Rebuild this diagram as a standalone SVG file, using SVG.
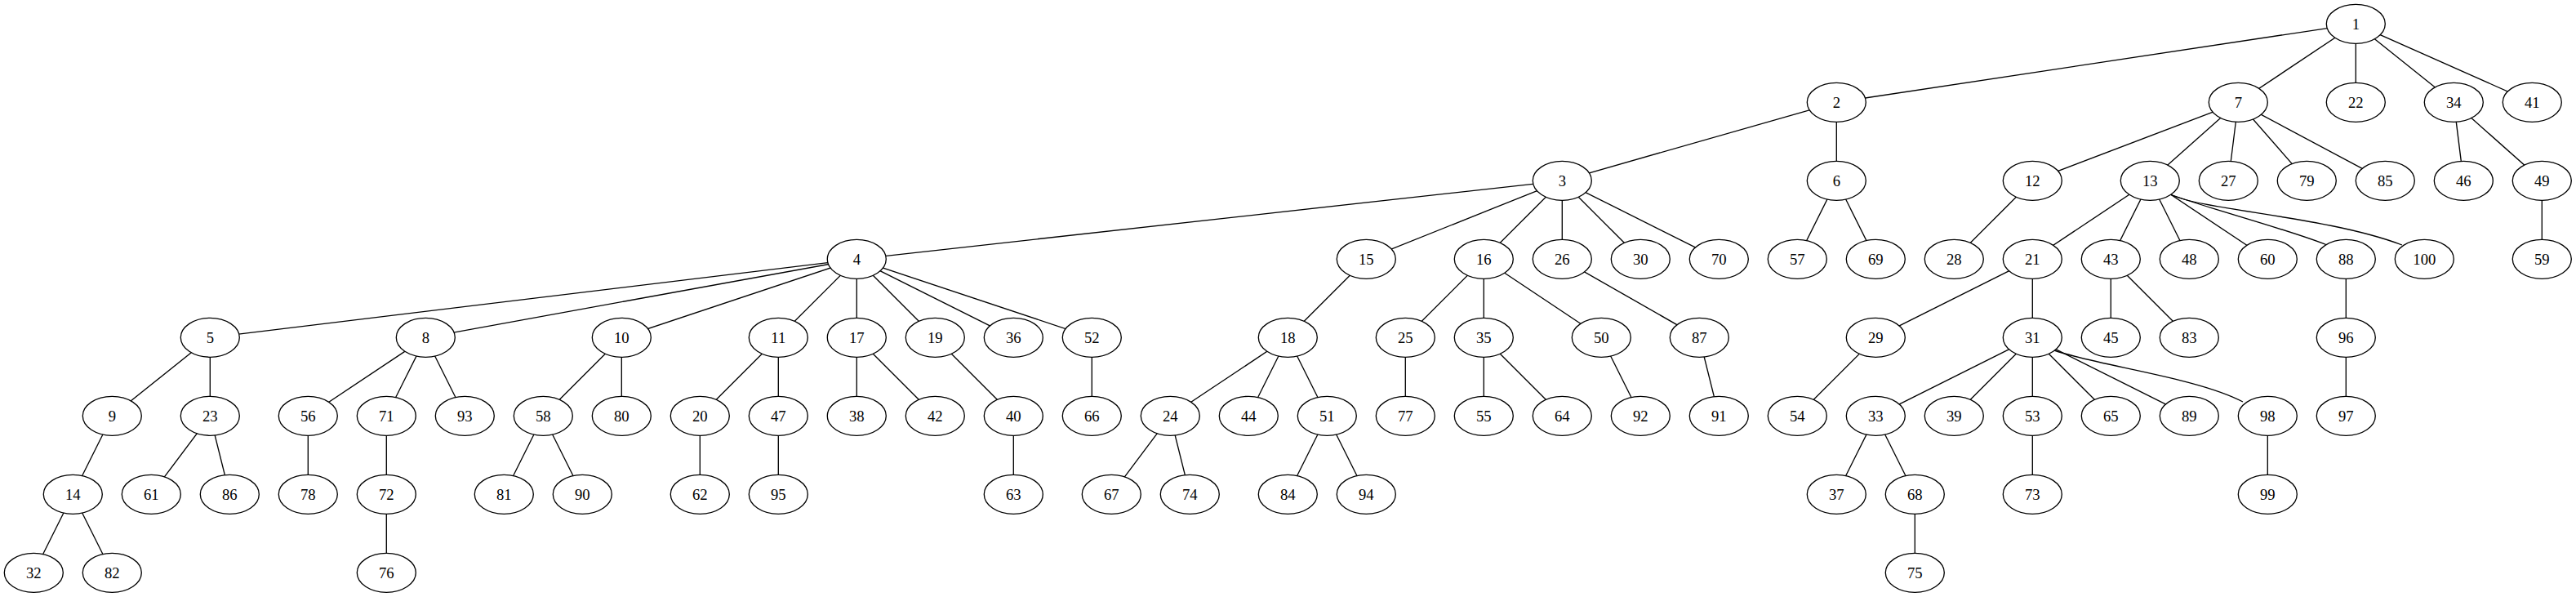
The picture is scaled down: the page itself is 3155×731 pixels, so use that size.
<svg xmlns="http://www.w3.org/2000/svg" width="3155" height="731" viewBox="0 0 3155 731">
<style>
.e line,.e path{stroke:#000;stroke-width:1.33;fill:none}
.n ellipse{fill:#fff;stroke:#000;stroke-width:1.33}
.n text{font-family:"Liberation Serif","Times New Roman",serif;font-size:18.67px;text-anchor:middle;fill:#000}
</style>
<rect width="3155" height="731" fill="#fff"/>
<g id="connectors" class="e">
<line x1="2885.3" y1="29.3" x2="2249.3" y2="125.3"/>
<line x1="2885.3" y1="29.3" x2="2741.3" y2="125.3"/>
<line x1="2885.3" y1="29.3" x2="2885.3" y2="125.3"/>
<line x1="2885.3" y1="29.3" x2="3005.3" y2="125.3"/>
<line x1="2885.3" y1="29.3" x2="3101.3" y2="125.3"/>
<line x1="2249.3" y1="125.3" x2="1913.3" y2="221.3"/>
<line x1="2249.3" y1="125.3" x2="2249.3" y2="221.3"/>
<line x1="2741.3" y1="125.3" x2="2489.3" y2="221.3"/>
<line x1="2741.3" y1="125.3" x2="2633.3" y2="221.3"/>
<line x1="2741.3" y1="125.3" x2="2729.3" y2="221.3"/>
<line x1="2741.3" y1="125.3" x2="2825.3" y2="221.3"/>
<line x1="2741.3" y1="125.3" x2="2921.3" y2="221.3"/>
<line x1="3005.3" y1="125.3" x2="3017.3" y2="221.3"/>
<line x1="3005.3" y1="125.3" x2="3113.3" y2="221.3"/>
<line x1="1913.3" y1="221.3" x2="1049.3" y2="317.3"/>
<line x1="1913.3" y1="221.3" x2="1673.3" y2="317.3"/>
<line x1="1913.3" y1="221.3" x2="1817.3" y2="317.3"/>
<line x1="1913.3" y1="221.3" x2="1913.3" y2="317.3"/>
<line x1="1913.3" y1="221.3" x2="2009.3" y2="317.3"/>
<line x1="1913.3" y1="221.3" x2="2105.3" y2="317.3"/>
<line x1="2249.3" y1="221.3" x2="2201.3" y2="317.3"/>
<line x1="2249.3" y1="221.3" x2="2297.3" y2="317.3"/>
<line x1="2489.3" y1="221.3" x2="2393.3" y2="317.3"/>
<line x1="2633.3" y1="221.3" x2="2489.3" y2="317.3"/>
<line x1="2633.3" y1="221.3" x2="2585.3" y2="317.3"/>
<line x1="2633.3" y1="221.3" x2="2681.3" y2="317.3"/>
<line x1="2633.3" y1="221.3" x2="2777.3" y2="317.3"/>
<path d="M2658,238 C2700,254 2800,280 2850,300"/>
<path d="M2658,238 C2700,258 2850,265 2942,300"/>
<line x1="3113.3" y1="221.3" x2="3113.3" y2="317.3"/>
<line x1="1049.3" y1="317.3" x2="257.3" y2="413.3"/>
<line x1="1049.3" y1="317.3" x2="521.3" y2="413.3"/>
<line x1="1049.3" y1="317.3" x2="761.3" y2="413.3"/>
<line x1="1049.3" y1="317.3" x2="953.3" y2="413.3"/>
<line x1="1049.3" y1="317.3" x2="1049.3" y2="413.3"/>
<line x1="1049.3" y1="317.3" x2="1145.3" y2="413.3"/>
<line x1="1049.3" y1="317.3" x2="1241.3" y2="413.3"/>
<line x1="1049.3" y1="317.3" x2="1337.3" y2="413.3"/>
<line x1="1673.3" y1="317.3" x2="1577.3" y2="413.3"/>
<line x1="1817.3" y1="317.3" x2="1721.3" y2="413.3"/>
<line x1="1817.3" y1="317.3" x2="1817.3" y2="413.3"/>
<line x1="1817.3" y1="317.3" x2="1961.3" y2="413.3"/>
<line x1="1913.3" y1="317.3" x2="2081.3" y2="413.3"/>
<line x1="2489.3" y1="317.3" x2="2297.3" y2="413.3"/>
<line x1="2489.3" y1="317.3" x2="2489.3" y2="413.3"/>
<line x1="2585.3" y1="317.3" x2="2585.3" y2="413.3"/>
<line x1="2585.3" y1="317.3" x2="2681.3" y2="413.3"/>
<line x1="2873.3" y1="317.3" x2="2873.3" y2="413.3"/>
<line x1="257.3" y1="413.3" x2="137.3" y2="509.3"/>
<line x1="257.3" y1="413.3" x2="257.3" y2="509.3"/>
<line x1="521.3" y1="413.3" x2="377.3" y2="509.3"/>
<line x1="521.3" y1="413.3" x2="473.3" y2="509.3"/>
<line x1="521.3" y1="413.3" x2="569.3" y2="509.3"/>
<line x1="761.3" y1="413.3" x2="665.3" y2="509.3"/>
<line x1="761.3" y1="413.3" x2="761.3" y2="509.3"/>
<line x1="953.3" y1="413.3" x2="857.3" y2="509.3"/>
<line x1="953.3" y1="413.3" x2="953.3" y2="509.3"/>
<line x1="1049.3" y1="413.3" x2="1049.3" y2="509.3"/>
<line x1="1049.3" y1="413.3" x2="1145.3" y2="509.3"/>
<line x1="1145.3" y1="413.3" x2="1241.3" y2="509.3"/>
<line x1="1337.3" y1="413.3" x2="1337.3" y2="509.3"/>
<line x1="1577.3" y1="413.3" x2="1433.3" y2="509.3"/>
<line x1="1577.3" y1="413.3" x2="1529.3" y2="509.3"/>
<line x1="1577.3" y1="413.3" x2="1625.3" y2="509.3"/>
<line x1="1721.3" y1="413.3" x2="1721.3" y2="509.3"/>
<line x1="1817.3" y1="413.3" x2="1817.3" y2="509.3"/>
<line x1="1817.3" y1="413.3" x2="1913.3" y2="509.3"/>
<line x1="1961.3" y1="413.3" x2="2009.3" y2="509.3"/>
<line x1="2081.3" y1="413.3" x2="2105.3" y2="509.3"/>
<line x1="2297.3" y1="413.3" x2="2201.3" y2="509.3"/>
<line x1="2489.3" y1="413.3" x2="2297.3" y2="509.3"/>
<line x1="2489.3" y1="413.3" x2="2393.3" y2="509.3"/>
<line x1="2489.3" y1="413.3" x2="2489.3" y2="509.3"/>
<line x1="2489.3" y1="413.3" x2="2585.3" y2="509.3"/>
<line x1="2489.3" y1="413.3" x2="2681.3" y2="509.3"/>
<path d="M2516,429 C2570,448 2690,462 2747,492"/>
<line x1="2873.3" y1="413.3" x2="2873.3" y2="509.3"/>
<line x1="137.3" y1="509.3" x2="89.3" y2="605.3"/>
<line x1="257.3" y1="509.3" x2="185.3" y2="605.3"/>
<line x1="257.3" y1="509.3" x2="281.3" y2="605.3"/>
<line x1="377.3" y1="509.3" x2="377.3" y2="605.3"/>
<line x1="473.3" y1="509.3" x2="473.3" y2="605.3"/>
<line x1="665.3" y1="509.3" x2="617.3" y2="605.3"/>
<line x1="665.3" y1="509.3" x2="713.3" y2="605.3"/>
<line x1="857.3" y1="509.3" x2="857.3" y2="605.3"/>
<line x1="953.3" y1="509.3" x2="953.3" y2="605.3"/>
<line x1="1241.3" y1="509.3" x2="1241.3" y2="605.3"/>
<line x1="1433.3" y1="509.3" x2="1361.3" y2="605.3"/>
<line x1="1433.3" y1="509.3" x2="1457.3" y2="605.3"/>
<line x1="1625.3" y1="509.3" x2="1577.3" y2="605.3"/>
<line x1="1625.3" y1="509.3" x2="1673.3" y2="605.3"/>
<line x1="2297.3" y1="509.3" x2="2249.3" y2="605.3"/>
<line x1="2297.3" y1="509.3" x2="2345.3" y2="605.3"/>
<line x1="2489.3" y1="509.3" x2="2489.3" y2="605.3"/>
<line x1="2777.3" y1="509.3" x2="2777.3" y2="605.3"/>
<line x1="89.3" y1="605.3" x2="41.3" y2="701.3"/>
<line x1="89.3" y1="605.3" x2="137.3" y2="701.3"/>
<line x1="473.3" y1="605.3" x2="473.3" y2="701.3"/>
<line x1="2345.3" y1="605.3" x2="2345.3" y2="701.3"/>
</g>
<g id="node1" class="n"><ellipse cx="2885.3" cy="29.3" rx="36" ry="24"/><text x="2885.3" y="35.5">1</text></g>
<g id="node2" class="n"><ellipse cx="2249.3" cy="125.3" rx="36" ry="24"/><text x="2249.3" y="131.5">2</text></g>
<g id="node7" class="n"><ellipse cx="2741.3" cy="125.3" rx="36" ry="24"/><text x="2741.3" y="131.5">7</text></g>
<g id="node22" class="n"><ellipse cx="2885.3" cy="125.3" rx="36" ry="24"/><text x="2885.3" y="131.5">22</text></g>
<g id="node34" class="n"><ellipse cx="3005.3" cy="125.3" rx="36" ry="24"/><text x="3005.3" y="131.5">34</text></g>
<g id="node41" class="n"><ellipse cx="3101.3" cy="125.3" rx="36" ry="24"/><text x="3101.3" y="131.5">41</text></g>
<g id="node3" class="n"><ellipse cx="1913.3" cy="221.3" rx="36" ry="24"/><text x="1913.3" y="227.5">3</text></g>
<g id="node6" class="n"><ellipse cx="2249.3" cy="221.3" rx="36" ry="24"/><text x="2249.3" y="227.5">6</text></g>
<g id="node12" class="n"><ellipse cx="2489.3" cy="221.3" rx="36" ry="24"/><text x="2489.3" y="227.5">12</text></g>
<g id="node13" class="n"><ellipse cx="2633.3" cy="221.3" rx="36" ry="24"/><text x="2633.3" y="227.5">13</text></g>
<g id="node27" class="n"><ellipse cx="2729.3" cy="221.3" rx="36" ry="24"/><text x="2729.3" y="227.5">27</text></g>
<g id="node79" class="n"><ellipse cx="2825.3" cy="221.3" rx="36" ry="24"/><text x="2825.3" y="227.5">79</text></g>
<g id="node85" class="n"><ellipse cx="2921.3" cy="221.3" rx="36" ry="24"/><text x="2921.3" y="227.5">85</text></g>
<g id="node46" class="n"><ellipse cx="3017.3" cy="221.3" rx="36" ry="24"/><text x="3017.3" y="227.5">46</text></g>
<g id="node49" class="n"><ellipse cx="3113.3" cy="221.3" rx="36" ry="24"/><text x="3113.3" y="227.5">49</text></g>
<g id="node4" class="n"><ellipse cx="1049.3" cy="317.3" rx="36" ry="24"/><text x="1049.3" y="323.5">4</text></g>
<g id="node15" class="n"><ellipse cx="1673.3" cy="317.3" rx="36" ry="24"/><text x="1673.3" y="323.5">15</text></g>
<g id="node16" class="n"><ellipse cx="1817.3" cy="317.3" rx="36" ry="24"/><text x="1817.3" y="323.5">16</text></g>
<g id="node26" class="n"><ellipse cx="1913.3" cy="317.3" rx="36" ry="24"/><text x="1913.3" y="323.5">26</text></g>
<g id="node30" class="n"><ellipse cx="2009.3" cy="317.3" rx="36" ry="24"/><text x="2009.3" y="323.5">30</text></g>
<g id="node70" class="n"><ellipse cx="2105.3" cy="317.3" rx="36" ry="24"/><text x="2105.3" y="323.5">70</text></g>
<g id="node57" class="n"><ellipse cx="2201.3" cy="317.3" rx="36" ry="24"/><text x="2201.3" y="323.5">57</text></g>
<g id="node69" class="n"><ellipse cx="2297.3" cy="317.3" rx="36" ry="24"/><text x="2297.3" y="323.5">69</text></g>
<g id="node28" class="n"><ellipse cx="2393.3" cy="317.3" rx="36" ry="24"/><text x="2393.3" y="323.5">28</text></g>
<g id="node21" class="n"><ellipse cx="2489.3" cy="317.3" rx="36" ry="24"/><text x="2489.3" y="323.5">21</text></g>
<g id="node43" class="n"><ellipse cx="2585.3" cy="317.3" rx="36" ry="24"/><text x="2585.3" y="323.5">43</text></g>
<g id="node48" class="n"><ellipse cx="2681.3" cy="317.3" rx="36" ry="24"/><text x="2681.3" y="323.5">48</text></g>
<g id="node60" class="n"><ellipse cx="2777.3" cy="317.3" rx="36" ry="24"/><text x="2777.3" y="323.5">60</text></g>
<g id="node88" class="n"><ellipse cx="2873.3" cy="317.3" rx="36" ry="24"/><text x="2873.3" y="323.5">88</text></g>
<g id="node100" class="n"><ellipse cx="2969.3" cy="317.3" rx="36" ry="24"/><text x="2969.3" y="323.5">100</text></g>
<g id="node59" class="n"><ellipse cx="3113.3" cy="317.3" rx="36" ry="24"/><text x="3113.3" y="323.5">59</text></g>
<g id="node5" class="n"><ellipse cx="257.3" cy="413.3" rx="36" ry="24"/><text x="257.3" y="419.5">5</text></g>
<g id="node8" class="n"><ellipse cx="521.3" cy="413.3" rx="36" ry="24"/><text x="521.3" y="419.5">8</text></g>
<g id="node10" class="n"><ellipse cx="761.3" cy="413.3" rx="36" ry="24"/><text x="761.3" y="419.5">10</text></g>
<g id="node11" class="n"><ellipse cx="953.3" cy="413.3" rx="36" ry="24"/><text x="953.3" y="419.5">11</text></g>
<g id="node17" class="n"><ellipse cx="1049.3" cy="413.3" rx="36" ry="24"/><text x="1049.3" y="419.5">17</text></g>
<g id="node19" class="n"><ellipse cx="1145.3" cy="413.3" rx="36" ry="24"/><text x="1145.3" y="419.5">19</text></g>
<g id="node36" class="n"><ellipse cx="1241.3" cy="413.3" rx="36" ry="24"/><text x="1241.3" y="419.5">36</text></g>
<g id="node52" class="n"><ellipse cx="1337.3" cy="413.3" rx="36" ry="24"/><text x="1337.3" y="419.5">52</text></g>
<g id="node18" class="n"><ellipse cx="1577.3" cy="413.3" rx="36" ry="24"/><text x="1577.3" y="419.5">18</text></g>
<g id="node25" class="n"><ellipse cx="1721.3" cy="413.3" rx="36" ry="24"/><text x="1721.3" y="419.5">25</text></g>
<g id="node35" class="n"><ellipse cx="1817.3" cy="413.3" rx="36" ry="24"/><text x="1817.3" y="419.5">35</text></g>
<g id="node50" class="n"><ellipse cx="1961.3" cy="413.3" rx="36" ry="24"/><text x="1961.3" y="419.5">50</text></g>
<g id="node87" class="n"><ellipse cx="2081.3" cy="413.3" rx="36" ry="24"/><text x="2081.3" y="419.5">87</text></g>
<g id="node29" class="n"><ellipse cx="2297.3" cy="413.3" rx="36" ry="24"/><text x="2297.3" y="419.5">29</text></g>
<g id="node31" class="n"><ellipse cx="2489.3" cy="413.3" rx="36" ry="24"/><text x="2489.3" y="419.5">31</text></g>
<g id="node45" class="n"><ellipse cx="2585.3" cy="413.3" rx="36" ry="24"/><text x="2585.3" y="419.5">45</text></g>
<g id="node83" class="n"><ellipse cx="2681.3" cy="413.3" rx="36" ry="24"/><text x="2681.3" y="419.5">83</text></g>
<g id="node96" class="n"><ellipse cx="2873.3" cy="413.3" rx="36" ry="24"/><text x="2873.3" y="419.5">96</text></g>
<g id="node9" class="n"><ellipse cx="137.3" cy="509.3" rx="36" ry="24"/><text x="137.3" y="515.5">9</text></g>
<g id="node23" class="n"><ellipse cx="257.3" cy="509.3" rx="36" ry="24"/><text x="257.3" y="515.5">23</text></g>
<g id="node56" class="n"><ellipse cx="377.3" cy="509.3" rx="36" ry="24"/><text x="377.3" y="515.5">56</text></g>
<g id="node71" class="n"><ellipse cx="473.3" cy="509.3" rx="36" ry="24"/><text x="473.3" y="515.5">71</text></g>
<g id="node93" class="n"><ellipse cx="569.3" cy="509.3" rx="36" ry="24"/><text x="569.3" y="515.5">93</text></g>
<g id="node58" class="n"><ellipse cx="665.3" cy="509.3" rx="36" ry="24"/><text x="665.3" y="515.5">58</text></g>
<g id="node80" class="n"><ellipse cx="761.3" cy="509.3" rx="36" ry="24"/><text x="761.3" y="515.5">80</text></g>
<g id="node20" class="n"><ellipse cx="857.3" cy="509.3" rx="36" ry="24"/><text x="857.3" y="515.5">20</text></g>
<g id="node47" class="n"><ellipse cx="953.3" cy="509.3" rx="36" ry="24"/><text x="953.3" y="515.5">47</text></g>
<g id="node38" class="n"><ellipse cx="1049.3" cy="509.3" rx="36" ry="24"/><text x="1049.3" y="515.5">38</text></g>
<g id="node42" class="n"><ellipse cx="1145.3" cy="509.3" rx="36" ry="24"/><text x="1145.3" y="515.5">42</text></g>
<g id="node40" class="n"><ellipse cx="1241.3" cy="509.3" rx="36" ry="24"/><text x="1241.3" y="515.5">40</text></g>
<g id="node66" class="n"><ellipse cx="1337.3" cy="509.3" rx="36" ry="24"/><text x="1337.3" y="515.5">66</text></g>
<g id="node24" class="n"><ellipse cx="1433.3" cy="509.3" rx="36" ry="24"/><text x="1433.3" y="515.5">24</text></g>
<g id="node44" class="n"><ellipse cx="1529.3" cy="509.3" rx="36" ry="24"/><text x="1529.3" y="515.5">44</text></g>
<g id="node51" class="n"><ellipse cx="1625.3" cy="509.3" rx="36" ry="24"/><text x="1625.3" y="515.5">51</text></g>
<g id="node77" class="n"><ellipse cx="1721.3" cy="509.3" rx="36" ry="24"/><text x="1721.3" y="515.5">77</text></g>
<g id="node55" class="n"><ellipse cx="1817.3" cy="509.3" rx="36" ry="24"/><text x="1817.3" y="515.5">55</text></g>
<g id="node64" class="n"><ellipse cx="1913.3" cy="509.3" rx="36" ry="24"/><text x="1913.3" y="515.5">64</text></g>
<g id="node92" class="n"><ellipse cx="2009.3" cy="509.3" rx="36" ry="24"/><text x="2009.3" y="515.5">92</text></g>
<g id="node91" class="n"><ellipse cx="2105.3" cy="509.3" rx="36" ry="24"/><text x="2105.3" y="515.5">91</text></g>
<g id="node54" class="n"><ellipse cx="2201.3" cy="509.3" rx="36" ry="24"/><text x="2201.3" y="515.5">54</text></g>
<g id="node33" class="n"><ellipse cx="2297.3" cy="509.3" rx="36" ry="24"/><text x="2297.3" y="515.5">33</text></g>
<g id="node39" class="n"><ellipse cx="2393.3" cy="509.3" rx="36" ry="24"/><text x="2393.3" y="515.5">39</text></g>
<g id="node53" class="n"><ellipse cx="2489.3" cy="509.3" rx="36" ry="24"/><text x="2489.3" y="515.5">53</text></g>
<g id="node65" class="n"><ellipse cx="2585.3" cy="509.3" rx="36" ry="24"/><text x="2585.3" y="515.5">65</text></g>
<g id="node89" class="n"><ellipse cx="2681.3" cy="509.3" rx="36" ry="24"/><text x="2681.3" y="515.5">89</text></g>
<g id="node98" class="n"><ellipse cx="2777.3" cy="509.3" rx="36" ry="24"/><text x="2777.3" y="515.5">98</text></g>
<g id="node97" class="n"><ellipse cx="2873.3" cy="509.3" rx="36" ry="24"/><text x="2873.3" y="515.5">97</text></g>
<g id="node14" class="n"><ellipse cx="89.3" cy="605.3" rx="36" ry="24"/><text x="89.3" y="611.5">14</text></g>
<g id="node61" class="n"><ellipse cx="185.3" cy="605.3" rx="36" ry="24"/><text x="185.3" y="611.5">61</text></g>
<g id="node86" class="n"><ellipse cx="281.3" cy="605.3" rx="36" ry="24"/><text x="281.3" y="611.5">86</text></g>
<g id="node78" class="n"><ellipse cx="377.3" cy="605.3" rx="36" ry="24"/><text x="377.3" y="611.5">78</text></g>
<g id="node72" class="n"><ellipse cx="473.3" cy="605.3" rx="36" ry="24"/><text x="473.3" y="611.5">72</text></g>
<g id="node81" class="n"><ellipse cx="617.3" cy="605.3" rx="36" ry="24"/><text x="617.3" y="611.5">81</text></g>
<g id="node90" class="n"><ellipse cx="713.3" cy="605.3" rx="36" ry="24"/><text x="713.3" y="611.5">90</text></g>
<g id="node62" class="n"><ellipse cx="857.3" cy="605.3" rx="36" ry="24"/><text x="857.3" y="611.5">62</text></g>
<g id="node95" class="n"><ellipse cx="953.3" cy="605.3" rx="36" ry="24"/><text x="953.3" y="611.5">95</text></g>
<g id="node63" class="n"><ellipse cx="1241.3" cy="605.3" rx="36" ry="24"/><text x="1241.3" y="611.5">63</text></g>
<g id="node67" class="n"><ellipse cx="1361.3" cy="605.3" rx="36" ry="24"/><text x="1361.3" y="611.5">67</text></g>
<g id="node74" class="n"><ellipse cx="1457.3" cy="605.3" rx="36" ry="24"/><text x="1457.3" y="611.5">74</text></g>
<g id="node84" class="n"><ellipse cx="1577.3" cy="605.3" rx="36" ry="24"/><text x="1577.3" y="611.5">84</text></g>
<g id="node94" class="n"><ellipse cx="1673.3" cy="605.3" rx="36" ry="24"/><text x="1673.3" y="611.5">94</text></g>
<g id="node37" class="n"><ellipse cx="2249.3" cy="605.3" rx="36" ry="24"/><text x="2249.3" y="611.5">37</text></g>
<g id="node68" class="n"><ellipse cx="2345.3" cy="605.3" rx="36" ry="24"/><text x="2345.3" y="611.5">68</text></g>
<g id="node73" class="n"><ellipse cx="2489.3" cy="605.3" rx="36" ry="24"/><text x="2489.3" y="611.5">73</text></g>
<g id="node99" class="n"><ellipse cx="2777.3" cy="605.3" rx="36" ry="24"/><text x="2777.3" y="611.5">99</text></g>
<g id="node32" class="n"><ellipse cx="41.3" cy="701.3" rx="36" ry="24"/><text x="41.3" y="707.5">32</text></g>
<g id="node82" class="n"><ellipse cx="137.3" cy="701.3" rx="36" ry="24"/><text x="137.3" y="707.5">82</text></g>
<g id="node76" class="n"><ellipse cx="473.3" cy="701.3" rx="36" ry="24"/><text x="473.3" y="707.5">76</text></g>
<g id="node75" class="n"><ellipse cx="2345.3" cy="701.3" rx="36" ry="24"/><text x="2345.3" y="707.5">75</text></g>
</svg>
